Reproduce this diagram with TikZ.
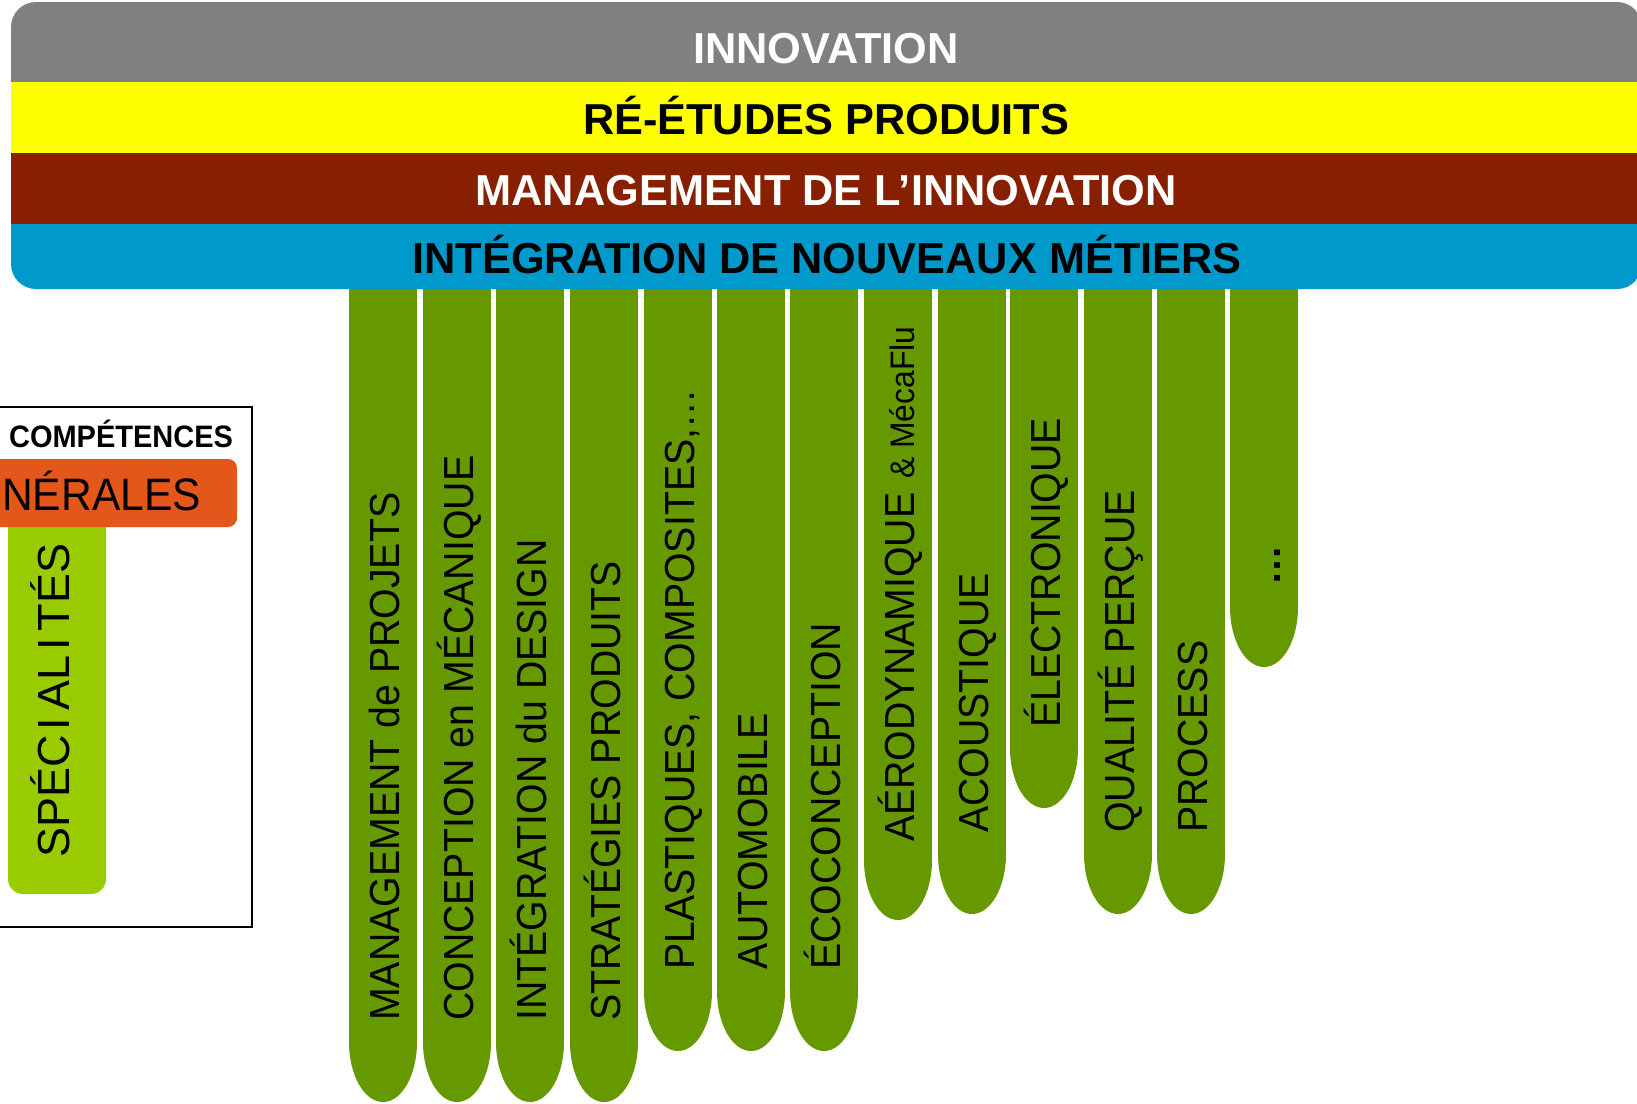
\documentclass[tikz,border=0pt]{standalone}
\usepackage{fontspec}
\setmainfont{Liberation Sans}
\newfontfamily\colfont[FakeStretch=0.935]{Liberation Sans}

\definecolor{bandgray}{HTML}{808080}
\definecolor{bandyellow}{HTML}{FFFF00}
\definecolor{bandbrown}{HTML}{862000}
\definecolor{bandblue}{HTML}{0099CC}
\definecolor{colgreen}{HTML}{669900}
\definecolor{limegreen}{HTML}{99CC00}
\definecolor{genorange}{HTML}{E4571B}

\begin{document}
\begin{tikzpicture}[x=1pt,y=-1pt,
  bandtext/.style={anchor=base, inner sep=0pt, font=\fontsize{43.3}{50}\selectfont\bfseries},
  coltext/.style={rotate=90, anchor=base west, inner sep=0pt, font=\colfont\fontsize{42}{50}\selectfont}]
\useasboundingbox (0,0) rectangle (1637,1103);

% Draw the specialty columns (straight part plus a half ellipse at the bottom)
\foreach \x/\y in {349/1042, 423/1042, 496/1042, 570/1042, 644/991, 717/991, 790/991,
                   864/860, 938/854, 1010/748, 1084/854, 1157/854, 1230/607} {
  \fill[colgreen] (\x,280) rectangle (\x+68,\y);
  \fill[colgreen] (\x+34,\y) ellipse (34pt and 60pt);
}

% Column labels
\node[coltext] (mgmt) at (399,1021) {MANAGEMENT de PROJETS};
\node[coltext] (conc) at (473,1021) {CONCEPTION en MÉCANIQUE};
\node[coltext] (design) at (546,1021) {INTÉGRATION du DESIGN};
\node[coltext] (strat) at (620,1021) {STRATÉGIES PRODUITS};
\node[coltext] (plast) at (694,970) {PLASTIQUES, COMPOSITES,…};
\node[coltext] (auto) at (767,970) {AUTOMOBILE};
\node[coltext] (eco) at (840,970) {ÉCOCONCEPTION};
\node[coltext] (aero) at (914,842) {AÉRODYNAMIQUE\hspace{14pt}{\fontsize{34}{40}\selectfont\& MécaFlu}};
\node[coltext] (acou) at (988,833) {ACOUSTIQUE};
\node[coltext] (elec) at (1060,728) {ÉLECTRONIQUE};
\node[coltext] (qual) at (1134,833) {QUALITÉ PERÇUE};
\node[coltext] (proc) at (1207,833) {PROCESS};
\node[coltext, font=\fontsize{40}{48}\selectfont\bfseries] (more) at (1280,586) {…};

% Draw the banner with its four bands
\begin{scope}
  \clip[rounded corners=25pt] (11,2) rectangle (1642,289);
  \fill[bandgray] (0,0) rectangle (1650,82);
  \fill[bandyellow] (0,82) rectangle (1650,153);
  \fill[bandbrown] (0,153) rectangle (1650,224);
  \fill[bandblue] (0,224) rectangle (1650,290);
\end{scope}
\node[bandtext, white] (innov) at (826,63) {INNOVATION};
\node[bandtext] (reet) at (826,134) {RÉ-ÉTUDES PRODUITS};
\node[bandtext, white] (mgmtinno) at (826,205) {MANAGEMENT DE L’INNOVATION};
\node[bandtext] (integ) at (827,273) {INTÉGRATION DE NOUVEAUX MÉTIERS};

% Legend box on the left
\draw[line width=2pt] (-20,407) rectangle (252,927);
\node[anchor=base, inner sep=0pt, font=\colfont\fontsize{31}{36}\selectfont\bfseries] (comp) at (121,447) {COMPÉTENCES};
\fill[limegreen, rounded corners=15pt] (8,500) rectangle (106,894);
\fill[genorange, rounded corners=9pt] (-110,459) rectangle (237,527);
\node[anchor=base east, inner sep=0pt, font=\colfont\fontsize{45.5}{54}\selectfont] (gen) at (201,510) {GÉNÉRALES};
\node[rotate=90, anchor=base west, inner sep=0pt, font=\fontsize{45}{54}\selectfont] (spec) at (69,858) {SPÉC\kern5pt I\kern7pt AL\kern5pt I\kern7pt TÉS};
\end{tikzpicture}
\end{document}
